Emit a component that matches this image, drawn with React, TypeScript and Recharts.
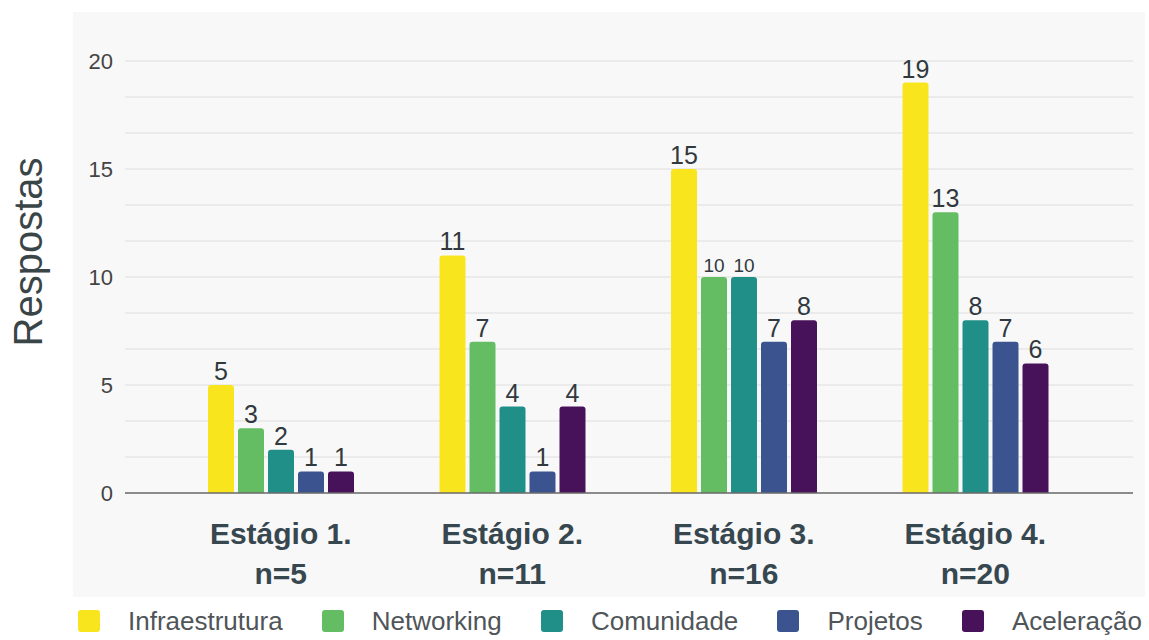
import React from 'react';
import { BarChart, Bar, XAxis, YAxis, CartesianGrid, Legend, LabelList } from 'recharts';

const categories = ['Estágio 1.', 'Estágio 2.', 'Estágio 3.', 'Estágio 4.'];
const sampleSizes = ['n=5', 'n=11', 'n=16', 'n=20'];

const infraestrutura = [5, 11, 15, 19];
const networking = [3, 7, 10, 13];
const comunidade = [2, 4, 10, 8];
const projetos = [1, 1, 7, 7];
const aceleracao = [1, 4, 8, 6];

const yTickLabels = [0, 5, 10, 15, 20];

const seriesList = [
  { key: 'infraestrutura', name: 'Infraestrutura', values: infraestrutura, color: '#f9e51e' },
  { key: 'networking', name: 'Networking', values: networking, color: '#64bd63' },
  { key: 'comunidade', name: 'Comunidade', values: comunidade, color: '#1f8f87' },
  { key: 'projetos', name: 'Projetos', values: projetos, color: '#3b5490' },
  { key: 'aceleracao', name: 'Aceleração', values: aceleracao, color: '#47125a' },
];

const chartData = categories.map((cat, i) => {
  const row: { [key: string]: any } = { category: cat, n: sampleSizes[i] };
  seriesList.forEach(s => { row[s.key] = s.values[i]; });
  return row;
});

// minor gridlines: each 5-step split in three
const gridTicks: number[] = [];
yTickLabels.forEach((t, i) => {
  gridTicks.push(t);
  if (i < yTickLabels.length - 1) {
    const step = (yTickLabels[i + 1] - t) / 3;
    gridTicks.push(t + step, t + 2 * step);
  }
});

const FONT = '"Liberation Sans", Arial, sans-serif';

const StageTick = (props: any) => {
  const { x, y, payload, index } = props;
  return (
    <g>
      <text x={x} y={y + 49} textAnchor="middle" fontFamily={FONT} fontSize={30} fontWeight="bold" fill="#37474f">
        {payload.value}
      </text>
      <text x={x} y={y + 89} textAnchor="middle" fontFamily={FONT} fontSize={30} fontWeight="bold" fill="#37474f">
        {sampleSizes[index]}
      </text>
    </g>
  );
};

const makeValueLabel = (seriesIdx: number) => (props: any) => {
  const { x, y, width, value, index } = props;
  const prev = seriesList[seriesIdx - 1]?.values[index];
  const next = seriesList[seriesIdx + 1]?.values[index];
  const crowded = value >= 10 && (prev === value || next === value);
  return (
    <text
      x={x + width / 2}
      y={y - 5}
      textAnchor="middle"
      fontFamily={FONT}
      fontSize={crowded ? 19 : 25}
      fill="#30393e"
    >
      {value}
    </text>
  );
};

const LegendContent = () => (
  <div
    style={{
      display: 'flex',
      alignItems: 'center',
      justifyContent: 'space-between',
      height: 30,
      marginLeft: 78,
      width: 1064,
      fontFamily: FONT,
    }}
  >
    {seriesList.map(s => (
      <div key={s.key} style={{ display: 'flex', alignItems: 'center' }}>
        <div style={{ width: 22, height: 22, background: s.color, borderRadius: 3, marginRight: 28 }} />
        <span style={{ fontSize: 26, color: '#4f5558', lineHeight: '30px' }}>{s.name}</span>
      </div>
    ))}
  </div>
);

const YTitle = () => (
  <text
    x={28}
    y={252}
    transform="rotate(-90 28 252)"
    textAnchor="middle"
    dominantBaseline="central"
    fontFamily={FONT}
    fontSize={40}
    fill="#3a4548"
  >
    Respostas
  </text>
);

export default function App() {
  return (
    <div style={{ position: 'absolute', left: 0, top: 0, width: 1149, height: 640, background: '#ffffff' }}>
      <div style={{ position: 'absolute', left: 73, top: 12, width: 1072, height: 585, background: '#f8f8f8' }} />
      <div style={{ position: 'absolute', left: 0, top: 0 }}>
        <BarChart
          width={1149}
          height={640}
          data={chartData}
          margin={{ top: 61, right: 16, left: 0, bottom: 4 }}
          barSize={26}
          barGap={4}
        >
          <CartesianGrid vertical={false} stroke="#dedede" />
          <XAxis
            dataKey="category"
            height={113}
            padding={{ left: 40, right: 42 }}
            axisLine={{ stroke: '#6b6b6b', strokeWidth: 1.5 }}
            tickLine={false}
            tickSize={0}
            tick={<StageTick />}
            interval={0}
          />
          <YAxis
            width={125}
            domain={[0, 20]}
            ticks={gridTicks}
            interval={0}
            tickFormatter={(v: number) => (yTickLabels.includes(v) ? String(v) : '')}
            axisLine={false}
            tickLine={false}
            tickSize={0}
            tickMargin={12}
            tick={{ fill: '#444', fontSize: 22, fontFamily: FONT }}
          />
          <Legend verticalAlign="bottom" content={<LegendContent />} wrapperStyle={{ left: 0, width: 1149 }} />
          {seriesList.map((s, i) => (
            <Bar key={s.key} dataKey={s.key} name={s.name} fill={s.color} radius={[3, 3, 0, 0]} isAnimationActive={false}>
              <LabelList dataKey={s.key} content={makeValueLabel(i)} />
            </Bar>
          ))}
          <YTitle />
        </BarChart>
      </div>
    </div>
  );
}
